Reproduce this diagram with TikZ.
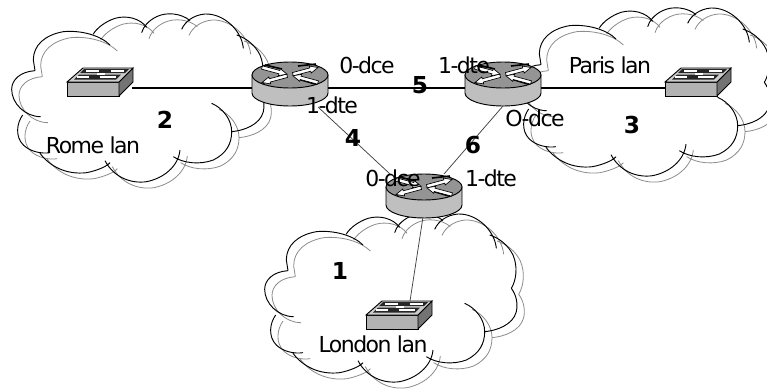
\documentclass[tikz,border=0pt]{standalone}
\usepackage{fontspec}
\setmainfont[LetterSpace=-7]{DejaVu Sans}
\tikzset{
  lbl/.style={inner sep=0pt,font=\fontsize{16.5}{18}\selectfont},
  num/.style={inner sep=0pt,font=\fontsize{17.5}{18}\selectfont\bfseries},
  link/.style={draw=black,line width=1.1pt},
  thin link/.style={draw=black!75,line width=0.55pt},
  arrowshape/.style={fill=white,draw=black,line width=0.5pt},
  shadow mark/.style={black,line width=1.2pt},
}
\newcommand{\cloudpath}{
  (105,212) .. controls (60,215) and (35,240) .. (35,268) .. controls (35,310) and (75,350) .. (122,350)
  (68,345) .. controls (50,370) and (45,410) .. (70,435) .. controls (90,455) and (125,462) .. (150,458)
  (120,460) .. controls (150,500) and (200,525) .. (260,518) .. controls (290,512) and (320,500) .. (330,488)
  (315,482) .. controls (340,530) and (390,552) .. (440,545) .. controls (490,535) and (535,500) .. (540,450)
  (520,470) .. controls (550,490) and (600,495) .. (640,480) .. controls (680,460) and (695,430) .. (695,395) .. controls (695,360) and (670,325) .. (635,310)
  (695,395) .. controls (730,392) and (780,375) .. (790,335) .. controls (795,310) and (790,285) .. (775,265)
  (775,265) .. controls (790,240) and (795,200) .. (780,165) .. controls (765,135) and (740,115) .. (710,105)
  (730,145) .. controls (725,90) and (670,40) .. (615,42) .. controls (580,45) and (555,65) .. (545,88)
  (570,62) .. controls (545,40) and (500,35) .. (470,50) .. controls (445,62) and (430,80) .. (425,98)
  (440,82) .. controls (420,55) and (380,45) .. (345,55) .. controls (315,65) and (290,85) .. (280,102)
  (330,135) .. controls (300,105) and (240,90) .. (190,95) .. controls (135,105) and (100,135) .. (100,180) -- (105,212)
}
\newcommand{\cloudat}[2]{%
  \begin{scope}[shift={(#1,#2)},x=0.25pt,y=-0.25pt]
    \draw[black!45,line width=0.6pt,shift={(22,18)}] \cloudpath;
    \draw[black,line width=0.7pt] \cloudpath;
  \end{scope}}
\newcommand{\arrowout}[1]{%
  \begin{scope}[rotate=#1]
    \filldraw[arrowshape] (3,1.7) -- (21,1.7) -- (21,3.6) -- (29,0) -- (21,-3.6) -- (21,-1.7) -- (3,-1.7) -- cycle;
  \end{scope}}
\newcommand{\arrowin}[1]{%
  \begin{scope}[rotate=#1]
    \filldraw[arrowshape] (29,1.7) -- (11,1.7) -- (11,3.6) -- (3,0) -- (11,-3.6) -- (11,-1.7) -- (29,-1.7) -- cycle;
  \end{scope}}
\newcommand{\routerat}[2]{%
  \begin{scope}[shift={(#1,#2)}]
    \path[fill=black!25,draw=black,line width=0.7pt] (-38,0) -- (-38,18) arc[start angle=180,end angle=0,x radius=38,y radius=13] -- (38,0) -- cycle;
    \path[fill=black!42,draw=black,line width=0.7pt] (0,0) ellipse[x radius=38,y radius=13];
    \draw[shadow mark] (-25,-10) -- (-8,-6) (8,-9) -- (26,-11) (-27,8) -- (-10,3) (8,4) -- (25,9);
    \arrowout{15}\arrowin{165}\arrowout{195}\arrowin{345}
  \end{scope}}
\newcommand{\switchat}[2]{%
  \begin{scope}[shift={(#1,#2)}]
    \filldraw[fill=black!30,draw=black,line width=0.7pt] (0,0) rectangle (52,14);
    \filldraw[fill=black!55,draw=black,line width=0.7pt] (52,0) -- (66,-14) -- (66,0) -- (52,14) -- cycle;
    \filldraw[fill=black!20,draw=black,line width=0.7pt] (0,0) -- (16,-14) -- (66,-14) -- (52,0) -- cycle;
    \fill[black!85] (17,-13) -- (62,-13) -- (58,-9) -- (13,-9) -- cycle;
    \fill[black!85] (12,-7.5) -- (54,-7.5) -- (49,-2.5) -- (7,-2.5) -- cycle;
    \draw[white,line width=1.1pt] (19,-11) -- (32,-11) (44,-11) -- (57,-11) (10,-5) -- (22,-5) (33,-5) -- (49,-5);
    \draw[white,line width=0.9pt] (30,-8) -- (38,-8);
  \end{scope}}
\begin{document}
\begin{tikzpicture}[x=0.75pt,y=-0.75pt]
\useasboundingbox (0,0) rectangle (767,389);
\fill[white] (0,0) rectangle (767,389);
\cloudat{0}{0}
\cloudat{506}{-6}
\cloudat{253}{200}
\switchat{67}{82}
\switchat{665}{82}
\switchat{366}{315}
\coordinate (swRe) at (132,88);
\coordinate (swPw) at (665,88);
\coordinate (swLn) at (410,301);
\coordinate (rAe) at (328,88);
\coordinate (rAw) at (252,88);
\coordinate (rBw) at (465,88);
\coordinate (rBe) at (541,88);
\coordinate (rAs) at (318,107);
\coordinate (rBs) at (503,106);
\coordinate (rCnw) at (390,174);
\coordinate (rCne) at (444,174);
\coordinate (rCs) at (423,217);
\draw[link] (swRe) -- (rAw);
\draw[link] (rBe) -- (swPw);
\routerat{290}{75}
\routerat{503}{75}
\draw[thin link] (rAs) -- (rCnw);
\draw[thin link] (rBs) -- (rCne);
\routerat{424}{187}
\draw[thin link] (rCs) -- (swLn);
\draw[link] (rAe) -- (rBw);
\node[lbl] (t1) at (367,65) {0-dce};
\node[lbl] (t2) at (464,65) {1-dte};
\node[lbl] (t3) at (332,105) {1-dte};
\node[lbl] (t4) at (535,118) {O-dce};
\node[lbl] (t5) at (393,178) {0-dce};
\node[lbl] (t6) at (491,178) {1-dte};
\node[lbl] (t7) at (93,145) {Rome lan};
\node[lbl] (t8) at (610,65) {Paris lan};
\node[lbl] (t9) at (373,344) {London lan};
\node[num] (n2) at (165,120) {2};
\node[num] (n5) at (420,85) {5};
\node[num] (n4) at (353,138) {4};
\node[num] (n6) at (473,145) {6};
\node[num] (n3) at (632,125) {3};
\node[num] (n1) at (340,271) {1};
\end{tikzpicture}
\end{document}
